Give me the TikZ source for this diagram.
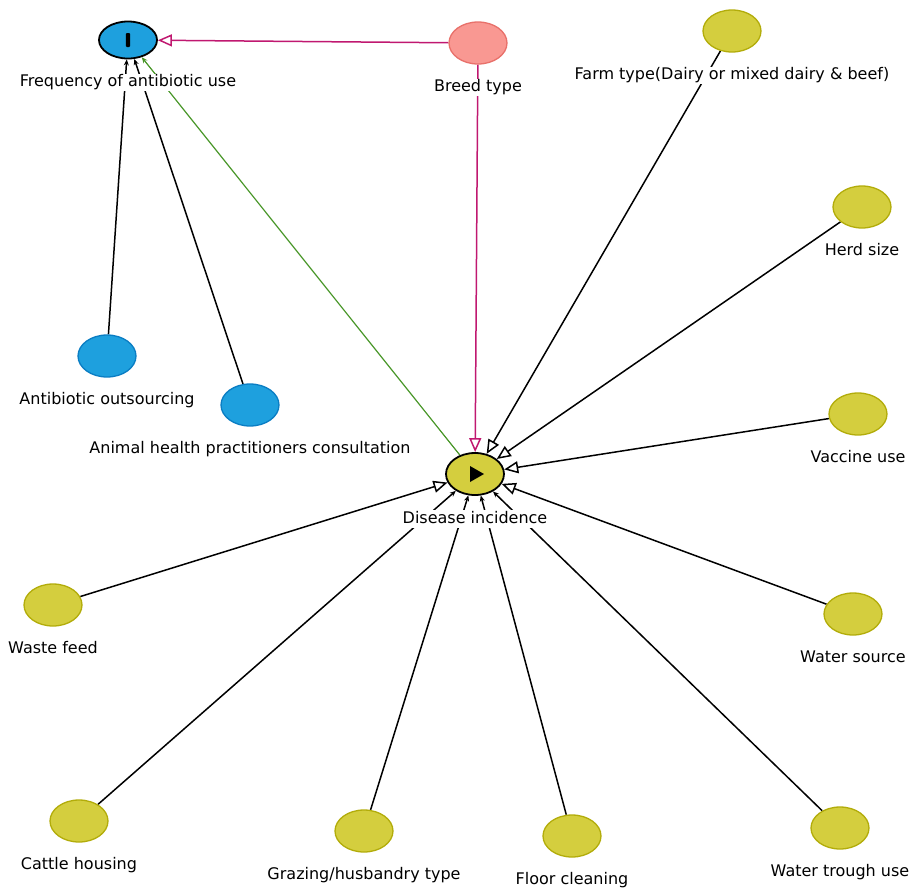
\documentclass[tikz,border=0pt]{standalone}
\usepackage{fontspec}
\setmainfont{DejaVu Sans}
\usetikzlibrary{arrows.meta, positioning, shapes.geometric, backgrounds}

\definecolor{antiblue}{RGB}{30,160,222}
\definecolor{antiblueline}{RGB}{10,125,195}
\definecolor{breedfill}{RGB}{249,152,146}
\definecolor{breedline}{RGB}{232,112,106}
\definecolor{riskfill}{RGB}{212,206,62}
\definecolor{riskline}{RGB}{178,172,10}
\definecolor{breedarc}{RGB}{192,24,112}
\definecolor{linkgreen}{RGB}{72,150,40}

\begin{document}
\begin{tikzpicture}[x=1pt, y=-1pt, node distance=14pt,
  every node/.style={font=\fontsize{16}{18}\selectfont},
  var/.style={ellipse, draw, line width=1.3pt, minimum width=58pt, minimum height=42pt, inner sep=0pt},
  risk/.style={var, fill=riskfill, draw=riskline},
  abx/.style={var, fill=antiblue, draw=antiblueline},
  lbl/.style={fill=white, inner sep=1pt, text height=12pt, text depth=3.5pt},
  arc/.style={line width=1.5pt, -{Triangle[open, length=14pt, width=12pt]}},
  thin/.style={line width=1.5pt, -{Stealth[length=6pt, width=5pt]}}]

\useasboundingbox (0,0) rectangle (911,887);

% outcome nodes
\node[abx, draw=black, line width=1.8pt, minimum height=37pt] (freq) at (128,40) {};
\fill[rounded corners=1pt] ([xshift=-2.2pt, yshift=-7pt]freq.center) rectangle ([xshift=2.2pt, yshift=7pt]freq.center);
\node[risk, draw=black, line width=1.8pt] (disease) at (475,474) {};
\fill ([xshift=-5pt, yshift=-8pt]disease.center) -- ([xshift=-5pt, yshift=8pt]disease.center) -- ([xshift=9pt]disease.center) -- cycle;

% parents
\node[var, fill=breedfill, draw=breedline] (breed) at (478,43) {};
\node[risk] (farm) at (732,31) {};
\node[risk] (herd) at (862,207) {};
\node[risk] (vaccine) at (858,414) {};
\node[abx] (outsrc) at (107,356) {};
\node[abx] (consult) at (250,405) {};
\node[risk] (waste) at (53,605) {};
\node[risk] (wsource) at (853,614) {};
\node[risk] (housing) at (79,821) {};
\node[risk] (grazing) at (364,831) {};
\node[risk] (floor) at (572,836) {};
\node[risk] (trough) at (840,828) {};

% labels
\node[lbl, below=of freq] (freqlbl) {Frequency of antibiotic use};
\node[lbl, below=of disease] (diseaselbl) {Disease incidence};
\node[lbl, below=of breed] {Breed type};
\node[lbl, below=of farm] {Farm type(Dairy or mixed dairy \& beef)};
\node[lbl, below=of herd] {Herd size};
\node[lbl, below=of vaccine] {Vaccine use};
\node[lbl, below=of outsrc] {Antibiotic outsourcing};
\node[lbl, below=of consult] {Animal health practitioners consultation};
\node[lbl, below=of waste] {Waste feed};
\node[lbl, below=of wsource] {Water source};
\node[lbl, below=of housing] {Cattle housing};
\node[lbl, below=of grazing] {Grazing/husbandry type};
\node[lbl, below=of floor] {Floor cleaning};
\node[lbl, below=of trough] {Water trough use};

\begin{scope}[on background layer]
\draw[arc, breedarc] (breed) -- (freq);
\draw[arc, breedarc] (breed) -- (disease);
\draw[thin, linkgreen, line width=1.2pt] (disease) -- (freq);
\draw[thin] (outsrc) -- (freq);
\draw[thin] (consult) -- (freq);
\draw[arc] (farm) -- (disease);
\draw[arc] (herd) -- (disease);
\draw[arc] (vaccine) -- (disease);
\draw[arc] (waste) -- (disease);
\draw[arc] (wsource) -- (disease);
\draw[thin] (housing) -- (disease);
\draw[thin] (grazing) -- (disease);
\draw[thin] (floor) -- (disease);
\draw[thin] (trough) -- (disease);
\end{scope}

\end{tikzpicture}
\end{document}
